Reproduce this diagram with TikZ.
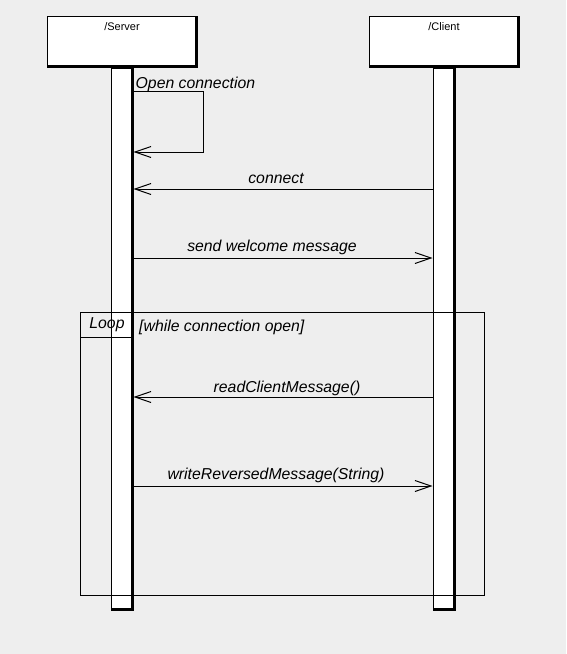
\documentclass[tikz,border=0pt]{standalone}
\usepackage{fontspec}
\setmainfont{Liberation Sans}
\usepackage{xcolor}
\usepackage{tikz}
\usetikzlibrary{arrows.meta, positioning}
\definecolor{bg}{RGB}{238,238,238}
\tikzstyle{head} = [rectangle, draw=black, fill=white, line width=1pt, minimum width=150pt, inner sep=0pt, text height=13.5pt, text depth=37.5pt, font=\fontsize{11}{13}\selectfont]
\tikzstyle{bar} = [rectangle, draw=black, fill=white, line width=1pt, minimum width=22pt, minimum height=542pt, inner sep=0pt]
\tikzstyle{edge} = [line width=2.6pt]
\tikzstyle{frame} = [rectangle, draw=black, line width=1pt, inner sep=0pt]
\tikzstyle{msg} = [inner sep=0pt, font=\itshape\fontsize{15.8}{18}\selectfont]
\tikzstyle{call} = [line width=1pt, -{Straight Barb[length=16pt, width=11pt]}]

\begin{document}
\begin{tikzpicture}[x=1pt, y=-1pt, node distance=322pt]
    \path[fill=bg, use as bounding box] (0,0) rectangle (566,654);

    % lifelines
    \node (server) [head, anchor=north] at (122,16) {/Server};
    \node (client) [head, right of=server] {/Client};
    \node (serverbar) [bar, below=0pt of server] {};
    \node (clientbar) [bar, below=0pt of client] {};
    \foreach \n in {server, client, serverbar, clientbar}
        \draw [edge] ([xshift=-1.3pt]\n.north east) -- ([xshift=-1.3pt, yshift=1.3pt]\n.south east) -- ([yshift=1.3pt]\n.south west);

    % combined fragment
    \node (loop) [frame, anchor=north west, minimum width=404pt, minimum height=283pt] at (80,312) {};
    \node (looptag) [frame, msg, anchor=north west, minimum width=53pt, minimum height=25pt] at (loop.north west) {Loop\hspace{4pt}};
    \node (guard) [msg, anchor=base west] at (139,331) {[while connection open]};

    \coordinate (selfout) at (serverbar.east |- 0,91);
    \coordinate (selfin) at (serverbar.east |- 0,152);
    \coordinate (connS) at (serverbar.east |- 0,189);
    \coordinate (connC) at (clientbar.west |- 0,189);
    \coordinate (welS) at (serverbar.east |- 0,258);
    \coordinate (welC) at (clientbar.west |- 0,258);
    \coordinate (readS) at (serverbar.east |- 0,397);
    \coordinate (readC) at (clientbar.west |- 0,397);
    \coordinate (writeS) at (serverbar.east |- 0,486);
    \coordinate (writeC) at (clientbar.west |- 0,486);

    % messages
    \draw [call] (selfout) -- ++(70,0) |- (selfin);
    \node (opentext) [msg, anchor=base west] at ([xshift=2pt, yshift=3pt]selfout) {Open connection};
    \draw [call] (connC) -- node[msg, anchor=base, yshift=6pt, xshift=-7pt] {connect} (connS);
    \draw [call] (welS) -- node[msg, anchor=base, yshift=7pt, xshift=-11pt] {send welcome message} (welC);
    \draw [call] (readC) -- node[msg, anchor=base, yshift=5pt, xshift=4pt] {readClientMessage()} (readS);
    \draw [call] (writeS) -- node[msg, anchor=base, yshift=7pt, xshift=-7pt] {writeReversedMessage(String)} (writeC);
\end{tikzpicture}
\end{document}
